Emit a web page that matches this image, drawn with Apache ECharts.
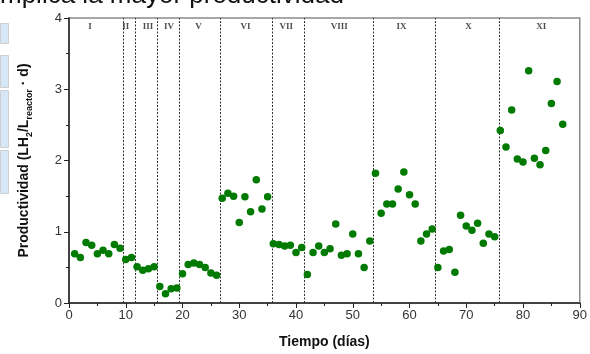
<!DOCTYPE html>
<html>
<head>
<meta charset="utf-8">
<script src="https://cdn.jsdelivr.net/npm/echarts@6/dist/echarts.min.js"></script>
<style>
  html, body { margin: 0; padding: 0; background: #fff; }
  #main { width: 590px; height: 354px; }
</style>
</head>
<body>
<div id="main"></div>
<script>
var dom = document.getElementById("main");
var myChart = echarts.init(dom);

// dias de operacion
var dias = [1,2,3,4,5,6,7,8,9,10,11,12,13,14,15,16,17,18,19,20,21,22,23,24,25,26,
  27,28,29,30,31,32,33,34,35,36,37,38,39,40,41,42,43,44,45,46,47,48,49,50,51,52,53,
  54,55,56,57,58,59,60,61,62,63,64,65,66,67,68,69,70,71,72,73,74,75,76,77,78,79,80,
  81,82,83,84,85,86,87];
// productividad (LH2/Lreactor d)
var productividad = [0.69,0.64,0.85,0.81,0.69,0.74,0.69,0.82,0.77,0.61,0.64,0.51,0.46,0.48,0.51,0.23,0.13,0.20,0.21,
  0.41,0.54,0.56,0.54,0.50,0.42,0.39,
  1.47,1.54,1.50,1.13,1.49,1.28,1.73,1.32,1.49,
  0.83,0.82,0.80,0.81,0.71,0.78,0.40,0.71,0.80,0.71,0.76,1.11,0.67,0.69,0.97,0.69,0.50,0.87,
  1.82,1.26,1.39,1.39,1.60,1.84,1.52,1.39,0.87,0.97,1.04,
  0.50,0.73,0.75,0.43,1.23,1.08,1.02,1.12,0.84,0.97,0.93,
  2.42,2.19,2.71,2.02,1.98,3.26,2.03,1.94,2.14,2.80,3.11,2.51];

// cambios de etapa
var limites = [9.5, 11.6, 15.6, 19.4, 26.6, 35.8, 41.5, 53.6, 64.6, 75.8];
// etapas
var etapas = ['I','II','III','IV','V','VI','VII','VIII','IX','X','XI'];
var etapasX = [3.7, 10.0, 13.9, 17.6, 22.8, 31.1, 38.3, 47.6, 58.6, 70.4, 83.2];
var etapasY = 3.88;

var puntos = dias.map(function (d, i) { return [d, productividad[i]]; });
var etiquetas = etapas.map(function (e, i) { return { value: [etapasX[i], etapasY], name: e }; });

// fondo del documento (recortes azules)
var fondo = [[0, 23, 8, 20], [0, 55, 8, 32], [0, 90, 8, 57], [0, 150, 8, 43]];

var option = {
    backgroundColor: '#fff',
    animation: false,
    graphic: fondo.map(function (r) {
        return { type: 'rect', left: r[0], top: r[1], z: -10,
            shape: { width: r[2], height: r[3] },
            style: { fill: '#d6e7f7', stroke: '#cfcfcf', lineWidth: 1 } };
    }).concat([{
        type: 'text', left: 0, top: -17, z: 10,
        style: { text: 'mplica la mayor productividad', fontSize: 26,
            fontFamily: 'Liberation Sans', fill: '#111' }
    }]),
    grid: {
        left: 69, right: 9, top: 18, bottom: 49,
        show: true, borderColor: '#8a8a8a', borderWidth: 1.5
    },
    xAxis: {
        type: 'value', min: 0, max: 90, interval: 10,
        name: 'Tiempo (días)', nameLocation: 'middle', nameGap: 32,
        nameTextStyle: { fontFamily: 'Liberation Sans', fontWeight: 'bold', fontSize: 14, color: '#111' },
        axisLine: { lineStyle: { color: '#222', width: 1.5 } },
        axisTick: { inside: false, length: 5, lineStyle: { color: '#222' } },
        minorTick: { show: true, splitNumber: 2, length: 3, lineStyle: { color: '#222' } },
        axisLabel: { fontFamily: 'Liberation Sans', fontSize: 13, color: '#333', margin: 6 },
        splitLine: { show: false }
    },
    yAxis: {
        type: 'value', min: 0, max: 4, interval: 1,
        name: '{b|Productividad (LH}{s|2}{b|/L}{s|reactor}{b| · d)}',
        nameLocation: 'middle', nameGap: 38,
        nameTextStyle: {
            rich: {
                b: { fontFamily: 'Liberation Sans', fontWeight: 'bold', fontSize: 14, color: '#111',
                    lineHeight: 18, verticalAlign: 'bottom' },
                s: { fontFamily: 'Liberation Sans', fontWeight: 'bold', fontSize: 9, color: '#111',
                    lineHeight: 12, verticalAlign: 'bottom', padding: [0, 0, -3, 0] }
            }
        },
        axisLine: { show: true, lineStyle: { color: '#222', width: 1.5 } },
        axisTick: { show: true, inside: false, length: 5, lineStyle: { color: '#222' } },
        minorTick: { show: true, splitNumber: 2, length: 3, lineStyle: { color: '#222' } },
        axisLabel: { fontFamily: 'Liberation Sans', fontSize: 13, color: '#333', margin: 7 },
        splitLine: { show: false }
    },
    series: [
        {
            name: 'Productividad',
            type: 'scatter',
            data: puntos,
            symbolSize: 7.5,
            itemStyle: { color: '#007a00', opacity: 1 },
            z: 5,
            markLine: {
                silent: true,
                symbol: 'none',
                label: { show: false },
                lineStyle: { color: '#333', type: [2, 1.5], width: 1 },
                data: limites.map(function (x) { return { xAxis: x }; })
            }
        },
        {
            name: 'Etapas',
            type: 'scatter',
            data: etiquetas,
            symbolSize: 0,
            silent: true,
            label: {
                show: true, position: 'inside', formatter: '{b}',
                fontFamily: 'Liberation Serif', fontWeight: 'bold', fontSize: 9, color: '#222'
            }
        }
    ]
};

myChart.setOption(option);
</script>
</body>
</html>
